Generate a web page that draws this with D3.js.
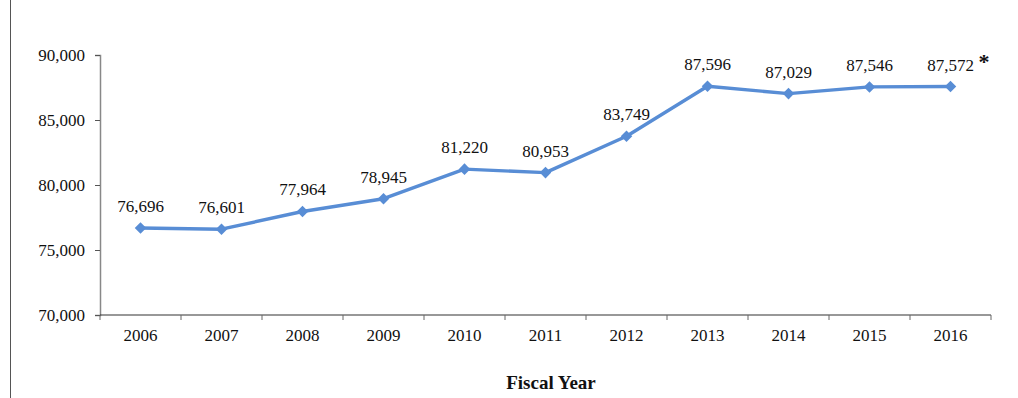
<!DOCTYPE html>
<html>
<head>
<meta charset="utf-8">
<script src="https://cdn.jsdelivr.net/npm/d3@7"></script>
<style>
  body { margin: 0; background: #fff; }
  svg text { font-family: "Liberation Serif", "Times New Roman", serif; }
</style>
</head>
<body>
<div id="chart"></div>
<script>
const years = ['2006', '2007', '2008', '2009', '2010', '2011', '2012', '2013', '2014', '2015', '2016'];
const values = [76696, 76601, 77964, 78945, 81220, 80953, 83749, 87596, 87029, 87546, 87572];
const yTicks = [70000, 75000, 80000, 85000, 90000];

const width = 1018, height = 398;
const margin = { top: 55, right: 27, bottom: 83, left: 100 };

const svg = d3.select('#chart').append('svg')
    .attr('width', width)
    .attr('height', height);

// frame line on the left edge
svg.append('line')
    .attr('x1', 10.5).attr('x2', 10.5)
    .attr('y1', 0).attr('y2', height)
    .attr('stroke', '#555').attr('stroke-width', 1);

const x = d3.scaleBand()
    .domain(years)
    .range([margin.left, width - margin.right]);

const y = d3.scaleLinear()
    .domain([70000, 90000])
    .range([height - margin.bottom, margin.top]);

const fmt = d3.format(',');

// y axis
const yAxis = svg.append('g')
    .attr('transform', `translate(${margin.left},0)`)
    .call(d3.axisLeft(y).tickValues(yTicks).tickFormat(fmt).tickSize(5).tickPadding(10));
yAxis.select('.domain').attr('stroke', '#888').attr('stroke-width', 1.5);
yAxis.selectAll('.tick line').attr('stroke', '#555');
yAxis.selectAll('text').attr('font-size', 17).attr('fill', '#111')
    .style('font-family', '"Liberation Serif", serif');

// x axis with ticks on the band edges
const xAxis = svg.append('g')
    .attr('transform', `translate(0,${height - margin.bottom})`);
xAxis.append('line')
    .attr('x1', margin.left).attr('x2', width - margin.right)
    .attr('stroke', '#333').attr('stroke-width', 1.2);
const edges = years.map(d => x(d)).concat([x(years[years.length - 1]) + x.bandwidth()]);
xAxis.selectAll('.edge').data(edges).enter().append('line')
    .attr('class', 'edge')
    .attr('x1', d => d).attr('x2', d => d)
    .attr('y1', 0).attr('y2', 5)
    .attr('stroke', '#666');
xAxis.selectAll('.lbl').data(years).enter().append('text')
    .attr('class', 'lbl')
    .attr('x', d => x(d) + x.bandwidth() / 2)
    .attr('y', 26)
    .attr('text-anchor', 'middle')
    .attr('font-size', 17)
    .attr('fill', '#111')
    .text(d => d);

svg.append('text')
    .attr('x', 551).attr('y', 389)
    .attr('text-anchor', 'middle')
    .attr('font-size', 19)
    .attr('font-weight', 'bold')
    .attr('fill', '#111')
    .text('Fiscal Year');

const cx = d => x(d) + x.bandwidth() / 2;
const data = years.map((d, i) => ({ year: d, value: values[i] }));

svg.append('path')
    .datum(data)
    .attr('fill', 'none')
    .attr('stroke', '#588DD5')
    .attr('stroke-width', 3.4)
    .attr('stroke-linejoin', 'round')
    .attr('d', d3.line().x(d => cx(d.year)).y(d => y(d.value)));

svg.selectAll('.marker').data(data).enter().append('path')
    .attr('class', 'marker')
    .attr('transform', d => `translate(${cx(d.year)},${y(d.value)})`)
    .attr('d', d3.symbol().type(d3.symbolDiamond2).size(85))
    .attr('fill', '#588DD5');

svg.selectAll('.val').data(data).enter().append('text')
    .attr('class', 'val')
    .attr('x', d => cx(d.year))
    .attr('y', d => y(d.value) - 16)
    .attr('text-anchor', 'middle')
    .attr('font-size', 17)
    .attr('fill', '#111')
    .text(d => fmt(d.value));

// asterisk note on the last value
const last = data[data.length - 1];
svg.append('text')
    .attr('x', cx(last.year) + 28)
    .attr('y', y(last.value) - 18)
    .attr('font-size', 22)
    .attr('font-weight', 'bold')
    .attr('fill', '#111')
    .text('*');
</script>
</body>
</html>
